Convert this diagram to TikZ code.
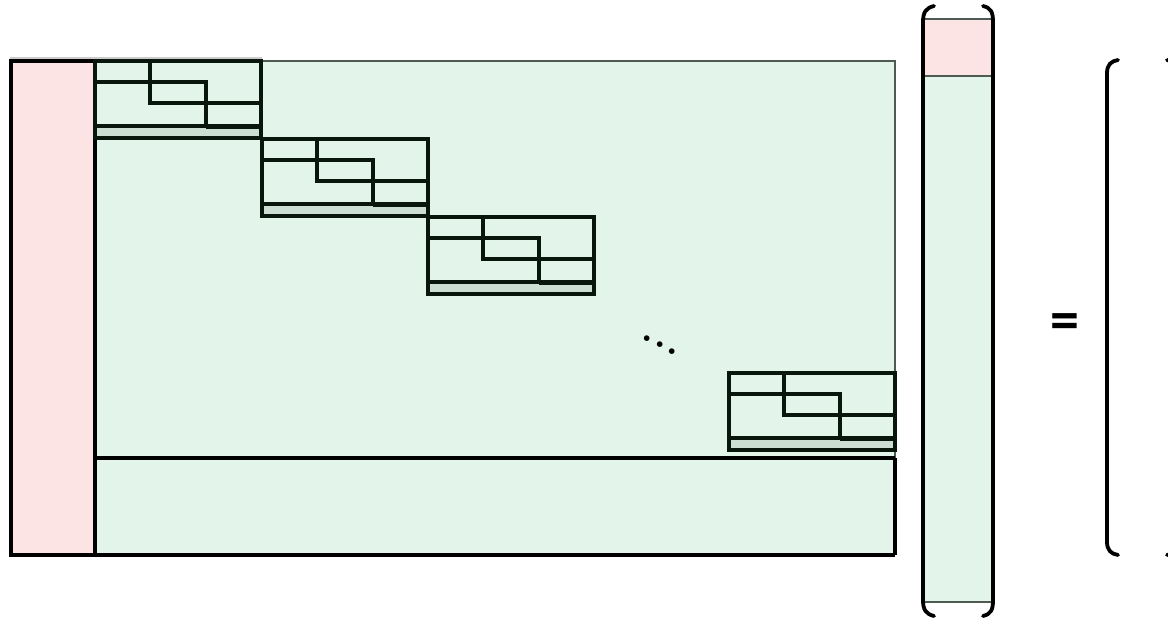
\documentclass[tikz,border=0pt]{standalone}
\usepackage{fontspec}
\setmainfont{Carlito}
\usetikzlibrary{shadows}
\definecolor{pinkf}{RGB}{253,228,228}
\definecolor{greenf}{RGB}{227,245,235}
\definecolor{stripf}{RGB}{203,222,209}
\definecolor{edgegray}{RGB}{80,90,85}
\definecolor{blkline}{RGB}{8,22,12}
\tikzset{
  thickln/.style={line width=4pt, draw=black},
  blkln/.style={line width=3.6pt, draw=blkline, line cap=rect},
  thinln/.style={line width=1.8pt, draw=edgegray},
  brack/.style={line width=3.8pt, draw=black, line cap=round},
  stair/.pic={
    \fill[stripf, drop shadow={opacity=0.18, shadow xshift=2pt, shadow yshift=-2pt}] (0,65) rectangle (166,77);
    \draw[blkln] (0,0) rectangle (166,77);
    \draw[blkln] (55,0) -- (55,42) -- (166,42);
    \draw[blkln] (0,21) -- (111,21) -- (111,65);
    \draw[blkln] (0,65) -- (166,65);
    \draw[line width=5.2pt, draw=blkline] (111,65.6) -- (166,65.6);
  }
}
\begin{document}
\begin{tikzpicture}[x=1pt,y=-1pt]
\useasboundingbox (0,0) rectangle (1168,619);
% main matrix
\draw[line width=1.2pt, draw=black!20] (10,58) -- (262,58);
\fill[pinkf] (11,61) rectangle (95,555);
\fill[greenf] (95,61) rectangle (895,555);
\draw[thinln] (95,61) -- (895,61) -- (895,458);
\draw[thickln] (95,458) -- (895,458);
\draw[line width=3.2pt] (895,458) -- (895,555);
\draw[thickln] (11,61) rectangle (95,555);
\draw[thickln] (11,555) -- (895,555);
% blocks
\pic at (95,61) {stair};
\pic at (262,139) {stair};
\pic at (428,217) {stair};
\pic at (729,373) {stair};
% dots
\node[font=\bfseries\fontsize{38}{38}\selectfont, rotate=-28, inner sep=0pt] (dots) at (660,345) {.\kern4pt.\kern4pt.};
% vector
\fill[pinkf] (923,19) rectangle (993,76);
\fill[greenf] (923,76) rectangle (993,602);
\draw[thinln] (923,19) rectangle (993,602);
\draw[thinln] (923,76) -- (993,76);
\draw[brack] (934,6) .. controls (926,8) and (923,12) .. (923,22) -- (923,600) .. controls (923,610) and (926,614) .. (934,616);
\draw[brack] (983,6) .. controls (991,8) and (993,12) .. (993,22) -- (993,600) .. controls (993,610) and (991,614) .. (983,616);
% equals
\node[font=\bfseries\fontsize{58}{58}\selectfont, inner sep=0pt] (eq) at (1064.5,327) {=};
% result bracket
\draw[brack] (1118,60) .. controls (1111,61) and (1107,65) .. (1107,73) -- (1107,542) .. controls (1107,550) and (1111,554) .. (1118,555);
\draw[brack] (1167,60) .. controls (1174,61) and (1178,65) .. (1178,73) -- (1178,542) .. controls (1178,550) and (1174,554) .. (1167,555);
\end{tikzpicture}
\end{document}
